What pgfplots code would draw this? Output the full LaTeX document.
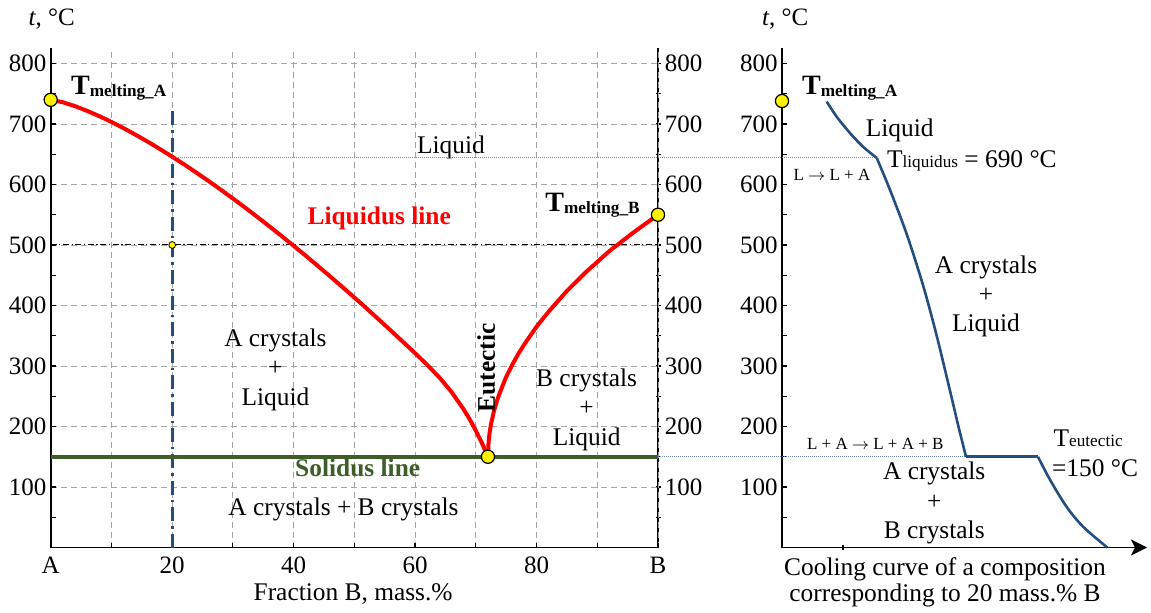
\documentclass[border=0pt]{standalone}
\usepackage{fontspec}
\setmainfont{Liberation Serif}
\usepackage{pgfplots}
\pgfplotsset{compat=1.18}
\usetikzlibrary{arrows.meta}
\definecolor{liqred}{RGB}{255,0,0}
\definecolor{solgreen}{RGB}{61,94,38}
\definecolor{navy}{RGB}{35,78,125}
\definecolor{dotblue}{RGB}{110,140,180}
\definecolor{gridgray}{RGB}{165,165,165}
\newcommand{\fs}{\rmfamily\fontsize{12.7}{15}\selectfont}
\newcommand{\fsub}{\fontsize{8.6}{10}\selectfont}
\newcommand{\fsmall}{\rmfamily\fontsize{8.5}{10}\selectfont}
\newcommand{\arr}{\ensuremath{\rightarrow}}
\tikzset{lbl/.style={inner sep=0pt, font=\fs}}
\begin{document}
\begin{tikzpicture}
\useasboundingbox (-25.35pt,-32.25pt) rectangle (550.15pt,273.75pt);
\pgfplotsset{
  mycommon/.style={
    y=0.3025pt, ymin=0, ymax=825,
    tick align=inside,
    major tick length=2.5pt, minor tick length=2.5pt,
    tick style={black, line width=0.6pt},
    ytick={100,200,...,800},
    yticklabels={100,200,300,400,500,600,700,800},
    minor ytick={50,150,...,750},
    tick label style={font=\rmfamily\fontsize{12.5}{15}\selectfont},
    yticklabel style={font=\rmfamily\fontsize{12.5}{15}\selectfont, inner xsep=2pt},
    axis line style={black, line width=0.9pt},
    clip=false,
  },
}
% ---------------- left: right-hand y axis (drawn first, below the marks) ----------------
\begin{axis}[mycommon, x=3.0365pt, xmin=0, xmax=100,
  axis x line=none, axis y line=right, y axis line style={-},
  yticklabel pos=right,
]
\addplot[draw=none] coordinates {(0,0) (100,825)};
\end{axis}
% ---------------- left: phase diagram ----------------
\begin{axis}[mycommon, x=3.0365pt, xmin=0, xmax=100,
  axis x line*=bottom, axis y line*=left,
  x axis line style={-}, y axis line style={-},
  xtick={0,20,...,100}, xticklabels={A,20,40,60,80,B},
  minor xtick={10,30,...,90},
  xticklabel style={inner ysep=4.6pt},
  xmajorgrids=true, xminorgrids=true, ymajorgrids=true, yminorgrids=false,
  major grid style={gridgray, dash pattern=on 3pt off 2pt, line width=0.45pt},
  minor grid style={gridgray, dash pattern=on 3pt off 2pt, line width=0.45pt},
]
\addplot[navy, line width=1.5pt, dash pattern=on 7pt off 2.5pt on 1.2pt off 2.5pt] coordinates {(20,0) (20,726)};
\addplot[black, line width=0.5pt, dash pattern=on 3pt off 1.3pt on 0.6pt off 1.3pt] coordinates {(0,500) (100,500)};
\addplot[liqred, line width=2pt, line join=round] coordinates {
 (0,740) (2,735.9) (4,729.5) (6,721.7) (8,713) (10,703.4) (12,693.1) (14,682.1) (16,670.6)
 (18,658.5) (20,646) (22,633) (24,619.5) (26,605.7) (28,591.5) (30,576.8) (32,561.9)
 (34,546.5) (36,530.9) (38,515) (40,498.7) (42,482.2) (44,465.3) (46,448.2) (48,430.8)
 (50,413.2) (52,395.3) (54,377) (56,358.7) (58,340) (60,321.2) (62,301.9) (64,281.1)
 (66,257.1) (68,228.3) (69,211.8) (70,193.2) (71,172.8) (72,150.2)};
\addplot[liqred, line width=2pt, line join=round] coordinates {
 (72,150) (72.1,174) (72.25,188) (72.5,204) (73,226) (73.5,243) (74,257) (75,282) (76,302)
 (77,320) (78,336) (80,365) (82,390) (85,424) (88,454) (92,490) (96,521) (100,550)};
\addplot[solgreen, line width=2pt] coordinates {(0,150) (100,150)};
\addplot[only marks, mark=*, mark size=3.3pt, mark options={fill=yellow, draw=black, line width=0.6pt}] coordinates {(0,740) (100,550) (72,150)};
\addplot[only marks, mark=*, mark size=1.7pt, mark options={fill=yellow, draw=black, line width=0.4pt}] coordinates {(20,500)};

\node[lbl, anchor=base west] at (axis cs:-3.7,862.6) {\fontsize{12.5}{15}\selectfont\textit{t}, °C};
\node[lbl, anchor=base west] at (axis cs:3.3,748) {{\fontsize{14}{16}\selectfont\bfseries T}\raisebox{-1pt}{\fsub\bfseries melting\_A}};
\node[lbl, anchor=base west] at (axis cs:81.4,555) {{\fontsize{14}{16}\selectfont\bfseries T}\raisebox{-1pt}{\fsub\bfseries melting\_B}};
\node[lbl, anchor=base] at (axis cs:65.9,652) {Liquid};
\node[lbl, anchor=base, text=liqred, font=\fs\bfseries] at (axis cs:54.1,534.7) {Liquidus line};
\node[lbl, anchor=base] at (axis cs:37.0,332) {A crystals};
\node[lbl, anchor=base] at (axis cs:37.0,283.8) {+};
\node[lbl, anchor=base] at (axis cs:37.0,235.5) {Liquid};
\node[lbl, rotate=90, font=\fs\bfseries] at (axis cs:71.7,297) {Eutectic};
\node[lbl, anchor=base] at (axis cs:88.25,265.8) {B crystals};
\node[lbl, anchor=base] at (axis cs:88.25,217.6) {+};
\node[lbl, anchor=base] at (axis cs:88.25,169.4) {Liquid};
\node[lbl, anchor=base west, text=solgreen, font=\fs\bfseries] at (axis cs:40.2,117) {Solidus line};
\node[lbl, anchor=base west] at (axis cs:29.2,53.7) {A crystals + B crystals};
\node[lbl, anchor=base] at (axis cs:49.8,-86.8) {Fraction B, mass.\%};
\end{axis}
% ---------------- right: cooling curve ----------------
\begin{axis}[mycommon, at={(365.65pt,0pt)}, anchor=south west,
  x=0.5pt, xmin=0, xmax=365,
  axis x line=bottom, axis y line*=left,
  y axis line style={-},
  x axis line style={-{Stealth[length=8pt,width=8pt,inset=2pt]}},
  xtick={61}, xticklabels={},
]
\addplot[dotblue, line width=0.6pt, dash pattern=on 0.5pt off 0.5pt] coordinates {(-609.8,644) (94.7,644)};
\addplot[dotblue, line width=0.6pt, dash pattern=on 0.5pt off 0.5pt] coordinates {(-124,150) (184,150)};
\addplot[navy, line width=1.3pt, smooth] coordinates {(44.7,737) (54.7,712) (68,685) (81.3,662) (94.7,644)};
\addplot[navy, line width=1.3pt, smooth] coordinates {(94.7,644) (108,591) (124.7,518) (141.3,432) (154.7,350) (168,259) (176.3,201) (184,150)};
\addplot[navy, line width=1.3pt] coordinates {(184,150) (256,150)};
\addplot[navy, line width=1.3pt, smooth] coordinates {(256,150) (268,112) (284.7,67) (301.3,34) (325.3,0)};
\addplot[only marks, mark=*, mark size=3.3pt, mark options={fill=yellow, draw=black, line width=0.6pt}] coordinates {(0,738)};

\node[lbl, anchor=base west] at (axis cs:-20.3,862.6) {\fontsize{12.5}{15}\selectfont\textit{t}, °C};
\node[lbl, anchor=base west] at (axis cs:19.7,748) {{\fontsize{14}{16}\selectfont\bfseries T}\raisebox{-1pt}{\fsub\bfseries melting\_A}};
\node[lbl, anchor=base] at (axis cs:117.7,679) {Liquid};
\node[lbl, anchor=base west] at (axis cs:104.7,627.8) {T{\fsub liquidus} = 690 °C};
\node[lbl, anchor=base west, font=\fsmall] at (axis cs:11.3,607.4) {L \arr{} L + A};
\node[lbl, anchor=base] at (axis cs:204,453) {A crystals};
\node[lbl, anchor=base] at (axis cs:204,404.9) {+};
\node[lbl, anchor=base] at (axis cs:204,356.7) {Liquid};
\node[lbl, anchor=base west, font=\fsmall] at (axis cs:24.7,162.8) {L + A \arr{} L + A + B};
\node[lbl, anchor=base] at (axis cs:152.2,111.6) {A crystals};
\node[lbl, anchor=base] at (axis cs:152.2,63.4) {+};
\node[lbl, anchor=base] at (axis cs:152.2,15.2) {B crystals};
\node[lbl, anchor=base west] at (axis cs:271.3,166.6) {T{\fsub eutectic}};
\node[lbl, anchor=base west] at (axis cs:269.7,117) {=150 °C};
\node[lbl, anchor=base] at (axis cs:163,-45.5) {Cooling curve of a composition};
\node[lbl, anchor=base] at (axis cs:163,-89.6) {corresponding to 20 mass.\% B};
\end{axis}
\end{tikzpicture}
\end{document}
